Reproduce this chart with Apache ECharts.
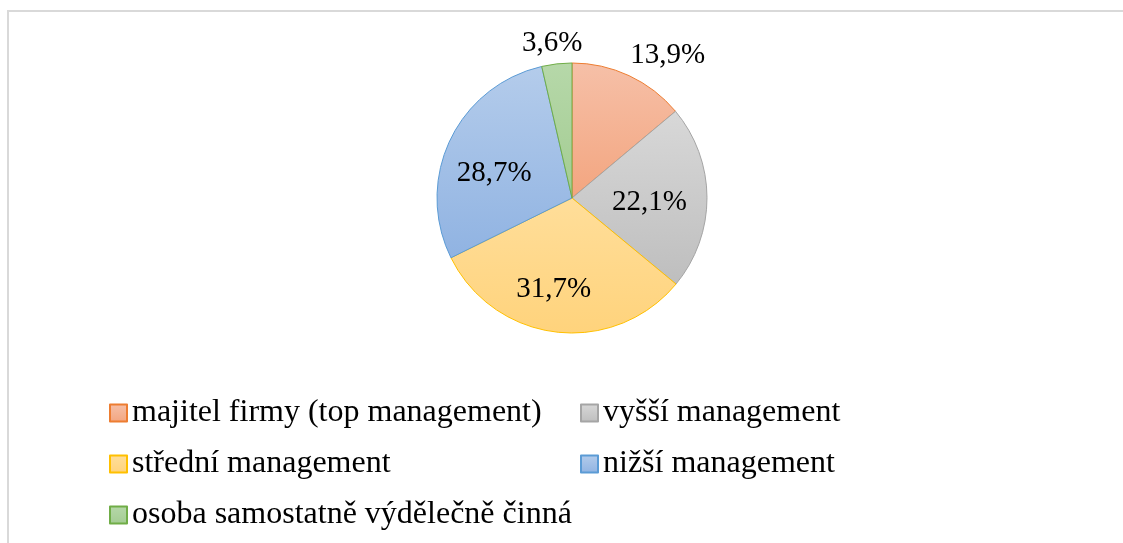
<!DOCTYPE html>
<html>
<head>
<meta charset="utf-8">
<script src="https://cdn.jsdelivr.net/npm/echarts@6/dist/echarts.min.js"></script>
<style>
html,body{margin:0;padding:0;background:#fff;}
#main{width:1123px;height:543px;}
</style>
</head>
<body>
<div id="main"></div>
<script>
var categories = ['majitel firmy (top management)', 'vyšší management', 'střední management', 'nižší management', 'osoba samostatně výdělečně činná'];
var values = [13.9, 22.1, 31.7, 28.7, 3.6];
var labelPositions = ['outside', 'inside', 'inside', 'inside', 'outside'];
var labelDx = [-9, 7, -10, -14, 32];
var labelDy = [-9, 5, 21, 6, -9];
var legendColumn1 = [categories[0], categories[2], categories[4]];
var legendColumn2 = [categories[1], categories[3]];

var fillTop = ['#F6C0A8', '#D8D8D8', '#FFDE9A', '#B4CCEB', '#B6D8A9'];
var fillBottom = ['#F3A57F', '#BEBEBE', '#FFD37C', '#90B3E2', '#A3CC92'];
var borders = ['#ED7D31', '#A5A5A5', '#FFC000', '#5B9BD5', '#70AD47'];

var serif = '"Liberation Serif", "Times New Roman", "DejaVu Serif", serif';

var data = categories.map(function (name, i) {
  return {
    name: name,
    value: values[i],
    itemStyle: {
      color: new echarts.graphic.LinearGradient(0, 0, 0, 1, [
        {offset: 0, color: fillTop[i]},
        {offset: 1, color: fillBottom[i]}
      ]),
      borderColor: borders[i],
      borderWidth: 1
    },
    label: {position: labelPositions[i]},
    labelLine: {show: false, length: 12, length2: 0}
  };
});

function makeLegend(left, names) {
  return {
    left: left,
    top: 397,
    padding: 0,
    orient: 'vertical',
    icon: 'rect',
    itemWidth: 17,
    itemHeight: 17,
    itemGap: 19,
    data: names,
    textStyle: {
      fontFamily: serif,
      fontSize: 32,
      color: '#000'
    }
  };
}

var chart = echarts.init(document.getElementById('main'), null, {renderer: 'canvas'});
chart.setOption({
  backgroundColor: '#ffffff',
  animation: false,
  graphic: [{
    type: 'rect',
    shape: {x: 8, y: 11, width: 1200, height: 600},
    style: {fill: 'none', stroke: '#D9D9D9', lineWidth: 2},
    silent: true
  }],
  legend: [makeLegend(109, legendColumn1), makeLegend(580, legendColumn2)],
  series: [{
    type: 'pie',
    center: [572, 198],
    radius: 135,
    startAngle: 90,
    clockwise: true,
    avoidLabelOverlap: false,
    data: data,
    label: {
      show: true,
      formatter: function (p) { return p.value.toFixed(1).replace('.', ',') + '%'; },
      fontFamily: serif,
      fontSize: 29,
      color: '#000'
    },
    labelLayout: function (p) {
      return {dx: labelDx[p.dataIndex], dy: labelDy[p.dataIndex]};
    },
    emphasis: {disabled: true}
  }]
});
</script>
</body>
</html>
